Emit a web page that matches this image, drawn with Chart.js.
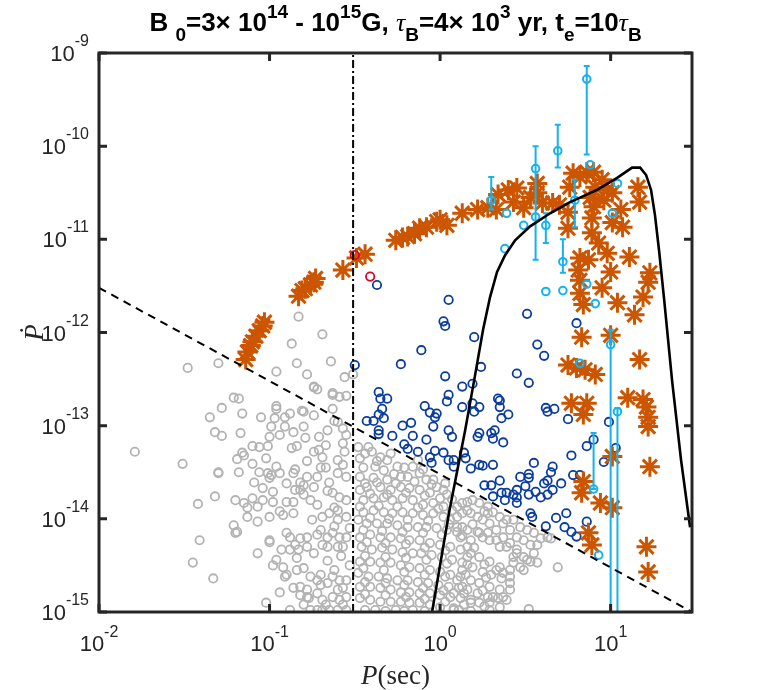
<!DOCTYPE html>
<html>
<head>
<meta charset="utf-8">
<script src="https://cdn.jsdelivr.net/npm/chart.js@4.4.0/dist/chart.umd.min.js"></script>
<style>
  body { margin: 0; background: #fff; }
  canvas { display: block; }
</style>
</head>
<body>
<canvas id="ppdot" width="763" height="690"></canvas>
<script>
"use strict";

// All values are [log10 P (s), log10 Pdot]

// Normal radio pulsars (grey)
const normalPsr = [
  [-1.79,-13.28],[-1.51,-13.41],[-1.48,-12.38],[-1.30,-12.33],[-1.42,-13.84],[-1.32,-13.76],[-1.30,-13.51],[-1.41,-14.23],
  [-1.45,-14.47],[-1.33,-14.64],[-1.02,-14.90],[-1.21,-12.70],[-1.18,-12.71],[-1.28,-12.81],[-1.35,-12.91],[-1.16,-12.87],
  [-1.32,-13.07],[-1.28,-13.11],[-1.17,-13.08],[-1.05,-12.91],[-0.97,-12.92],[-0.96,-12.79],[-0.96,-12.82],[-0.91,-12.91],
  [-0.88,-12.87],[-0.87,-12.12],[-0.84,-12.33],[-0.96,-12.42],[-0.78,-12.45],[-0.99,-13.01],[-1.00,-13.12],[-0.94,-13.10],
  [-0.86,-13.07],[-0.80,-13.01],[-0.81,-12.84],[-1.10,-13.22],[-1.01,-13.22],[-1.15,-13.32],[-1.19,-13.36],[-1.02,-13.35],
  [-1.10,-13.41],[-0.96,-13.44],[-1.06,-13.50],[-1.01,-13.51],[-0.99,-13.53],[-0.94,-13.51],[-0.86,-13.51],[-1.18,-13.50],
  [-1.09,-13.61],[-1.04,-13.67],[-0.98,-13.71],[-0.85,-13.69],[-0.80,-13.64],[-1.20,-13.80],[-1.15,-13.83],[-1.10,-13.78],
  [-1.04,-13.80],[-1.13,-13.88],[-1.07,-13.87],[-0.98,-13.82],[-0.90,-13.82],[-0.86,-13.82],[-0.86,-13.94],[-0.94,-13.92],
  [-1.00,-13.98],[-1.13,-13.98],[-1.21,-14.07],[-1.19,-14.14],[-1.07,-14.03],[-0.90,-14.15],[-1.00,-14.23],[-1.00,-14.25],
  [-0.93,-14.33],[-0.88,-14.33],[-0.83,-14.33],[-0.78,-14.30],[-1.07,-14.37],[-0.96,-14.44],[-0.98,-14.50],[-0.92,-14.52],
  [-0.84,-14.42],[-0.80,-14.53],[-0.91,-14.62],[-0.82,-14.73],[-0.94,-14.79],[-0.88,-14.98],[-0.78,-14.84],
  [-0.74,-12.59],[-0.72,-12.61],[-0.80,-12.85],[-0.74,-12.89],[-0.63,-12.67],[-0.59,-12.69],[-0.55,-12.68],[-0.63,-12.82],
  [-0.62,-12.95],[-0.66,-13.05],[-0.71,-13.12],[-0.91,-13.01],[-1.06,-13.23],[-1.16,-13.29],[-1.30,-13.50],[-1.00,-13.56],
  [-0.87,-13.24],[-0.84,-13.22],[-0.79,-13.13],[-0.74,-13.28],[-0.78,-13.38],[-0.85,-13.47],[-0.90,-13.62],[-0.82,-13.61],
  [-0.78,-13.55],[-0.82,-13.69],[-0.80,-13.74],[-0.76,-13.80],[-0.67,-13.21],[-0.71,-13.26],[-0.69,-13.34],[-0.67,-13.45],
  [-0.72,-13.55],[-0.65,-13.61],[-0.60,-13.51],[-0.57,-13.42],[-0.56,-13.28],[-0.55,-13.55],[-0.63,-13.72],[-0.59,-13.77],
  [-0.55,-13.80],[-0.55,-13.98],[-0.60,-14.01],[-0.60,-13.91],[-0.65,-13.94],[-0.69,-13.98],[-0.75,-14.01],[-0.92,-13.96],
  [-1.20,-14.15],[-0.88,-14.20],[-0.85,-14.28],[-0.82,-14.21],[-0.78,-14.20],[-0.72,-14.17],[-0.66,-14.20],[-0.63,-14.15],
  [-0.59,-14.20],[-0.55,-14.20],[-0.69,-14.28],[-0.66,-14.30],[-0.60,-14.30],[-0.57,-14.30],[-0.74,-14.37],[-0.90,-14.60],
  [-0.84,-14.55],[-0.76,-14.62],[-0.72,-14.66],[-0.70,-14.71],[-0.66,-14.69],[-0.63,-14.62],[-0.59,-14.66],[-0.55,-14.66],
  [-0.60,-14.76],[-0.57,-14.74],[-0.78,-14.76],[-0.86,-14.74],[-0.82,-14.82],[-0.77,-14.85],[-0.72,-14.80],[-0.69,-14.87],
  [-0.63,-14.84],[-0.59,-14.87],[-0.55,-14.84],[-0.76,-14.98],[-0.72,-14.98],[-0.69,-14.98],[-0.65,-14.98],[-0.60,-14.98],
  [-0.55,-14.98],[-0.60,-12.96],[-0.57,-13.03],[-0.55,-13.10],[-0.57,-13.19],[-0.60,-13.37],
  [-0.83,-11.83],[-0.69,-12.02],[-0.64,-12.31],[-0.56,-12.48],[-0.51,-12.45],[-0.74,-12.58],[-0.63,-12.65],
  [-0.48,-13.23],[-0.47,-13.35],[-0.42,-13.23],[-0.40,-13.28],[-0.35,-13.34],[-0.31,-13.37],[-0.25,-13.44],[-0.33,-13.48],
  [-0.38,-13.44],[-0.45,-13.45],[-0.47,-13.55],[-0.39,-13.56],[-0.31,-13.58],[-0.23,-13.55],[-0.19,-13.55],[-0.16,-13.44],
  [-0.13,-13.37],[-0.12,-13.51],[-0.08,-13.58],[-0.04,-13.58],[-0.02,-13.66],[0.02,-13.69],[0.04,-13.74],[0.00,-13.78],
  [-0.06,-13.72],[-0.12,-13.69],[-0.18,-13.67],[-0.23,-13.66],[-0.29,-13.69],[-0.35,-13.66],[-0.43,-13.66],[-0.47,-13.69],
  [-0.45,-13.80],[-0.39,-13.78],[-0.33,-13.77],[-0.28,-13.80],[-0.22,-13.78],[-0.16,-13.80],[-0.10,-13.85],[-0.04,-13.83],
  [0.02,-13.87],[0.07,-13.91],[0.10,-13.87],[0.13,-13.83],[0.16,-13.82],[0.19,-13.80],[0.23,-13.83],[0.28,-13.87],
  [0.31,-13.93],[0.35,-13.98],[0.39,-14.01],[0.43,-14.01],[0.47,-14.09],[0.51,-14.12],[0.55,-14.15],[0.59,-14.21],
  [0.63,-14.20],[0.57,-14.28],[0.55,-14.37],[0.57,-14.47],[0.53,-14.46],[0.49,-14.41],[0.45,-14.33],[0.41,-14.26],
  [0.37,-14.20],[0.33,-14.12],[0.29,-14.05],[0.25,-14.01],[0.22,-13.98],[0.18,-13.94],[0.13,-13.94],[0.10,-13.98],
  [0.06,-14.01],[0.02,-13.98],[-0.04,-13.94],[-0.10,-13.96],[-0.16,-13.94],[-0.22,-13.93],[-0.28,-13.94],[-0.33,-13.93],
  [-0.39,-13.91],[-0.45,-13.93],[-0.48,-14.01],[-0.43,-14.05],[-0.37,-14.05],[-0.31,-14.05],[-0.25,-14.07],[-0.19,-14.09],
  [-0.13,-14.09],[-0.08,-14.09],[-0.02,-14.10],[0.04,-14.12],[0.10,-14.14],[0.16,-14.12],[0.22,-14.14],[0.28,-14.15],
  [0.33,-14.23],[0.39,-14.30],[0.43,-14.41],[0.47,-14.52],[0.41,-14.55],[0.35,-14.52],[0.29,-14.46],[0.23,-14.41],
  [0.18,-14.37],[0.12,-14.33],[0.06,-14.30],[0.00,-14.28],[-0.06,-14.26],[-0.12,-14.23],[-0.18,-14.23],[-0.23,-14.21],
  [-0.29,-14.20],[-0.35,-14.20],[-0.41,-14.17],[-0.47,-14.20],[-0.46,-14.30],[-0.40,-14.33],[-0.34,-14.31],[-0.28,-14.33],
  [-0.22,-14.36],[-0.16,-14.37],[-0.11,-14.37],[-0.05,-14.39],[0.01,-14.41],[0.07,-14.44],[0.13,-14.47],[0.19,-14.52],
  [0.25,-14.57],[0.30,-14.60],[0.36,-14.64],[0.41,-14.69],[0.35,-14.76],[0.29,-14.73],[0.23,-14.69],[0.18,-14.66],
  [0.12,-14.62],[0.06,-14.60],[0.00,-14.57],[-0.06,-14.55],[-0.12,-14.53],[-0.18,-14.52],[-0.23,-14.50],[-0.29,-14.47],
  [-0.35,-14.47],[-0.41,-14.46],[-0.47,-14.46],[-0.48,-14.58],[-0.42,-14.62],[-0.36,-14.62],[-0.31,-14.64],[-0.25,-14.66],
  [-0.19,-14.66],[-0.13,-14.68],[-0.07,-14.69],[-0.01,-14.71],[0.05,-14.73],[0.11,-14.74],[0.16,-14.76],[0.22,-14.80],
  [0.28,-14.84],[0.34,-14.85],[0.39,-14.87],[0.35,-14.95],[0.29,-14.98],[0.23,-14.90],[0.18,-14.87],[0.12,-14.85],
  [0.06,-14.84],[0.00,-14.82],[-0.06,-14.80],[-0.12,-14.80],[-0.18,-14.79],[-0.23,-14.79],[-0.29,-14.76],[-0.35,-14.74],
  [-0.41,-14.73],[-0.47,-14.73],[-0.47,-14.85],[-0.41,-14.87],[-0.35,-14.89],[-0.29,-14.89],[-0.23,-14.89],[-0.18,-14.90],
  [-0.12,-14.90],[-0.06,-14.92],[0.00,-14.95],[0.08,-14.96],[-0.44,-14.98],[-0.38,-14.98],[-0.32,-14.99],[-0.26,-14.98],
  [-0.21,-14.99],[-0.16,-14.98],[-0.09,-14.99],[0.11,-14.98],[0.18,-14.99],[0.52,-14.97],
  [0.16,-13.91],[0.28,-13.94],[0.37,-14.05],[0.41,-14.12],[0.45,-14.20],[0.49,-14.23],[0.53,-14.28],[0.51,-14.44],
  [0.49,-14.55],[0.43,-14.47],[0.41,-14.62],[0.37,-14.58],[0.33,-14.55],[0.16,-14.30],[0.12,-14.20],[0.10,-14.09],
  [0.13,-14.09],[0.23,-14.15],[0.29,-14.23],[0.35,-14.30],[0.45,-14.37],[0.18,-14.23],[0.16,-14.41],[0.13,-14.55],
  [0.41,-14.76],[0.37,-14.84],[0.31,-14.84],[0.13,-14.73],[0.10,-14.66],[0.08,-14.80],[0.18,-14.90],[0.29,-14.90],
  [0.08,-14.98],[0.65,-14.21],[0.69,-14.52],
  [-0.44,-13.62],[-0.37,-13.61],[-0.26,-13.62],[-0.15,-13.60],[-0.05,-13.63],[0.03,-13.62],
  [-0.41,-13.73],[-0.31,-13.74],[-0.20,-13.72],[-0.09,-13.75],[0.07,-13.79],
  [-0.47,-13.87],[-0.36,-13.86],[-0.25,-13.87],[-0.13,-13.88],[-0.01,-13.89],[0.26,-13.92],
  [-0.41,-13.99],[-0.30,-14.00],[-0.19,-14.01],[-0.07,-14.02],[0.05,-14.06],[0.19,-14.06],
  [-0.45,-14.12],[-0.34,-14.13],[-0.22,-14.14],[-0.10,-14.15],[0.01,-14.17],[0.13,-14.18],[0.25,-14.20],
  [-0.43,-14.25],[-0.32,-14.26],[-0.20,-14.27],[-0.09,-14.31],[0.03,-14.34],[0.20,-14.31],
  [-0.44,-14.40],[-0.32,-14.41],[-0.20,-14.42],[-0.08,-14.44],[0.04,-14.48],[0.16,-14.49],[0.26,-14.49],
  [-0.45,-14.53],[-0.33,-14.55],[-0.21,-14.57],[-0.09,-14.60],[0.03,-14.62],[0.15,-14.60],[0.27,-14.63],
  [-0.44,-14.68],[-0.32,-14.69],[-0.21,-14.71],[-0.10,-14.74],[0.02,-14.77],[0.14,-14.80],[0.25,-14.77],
  [-0.44,-14.81],[-0.32,-14.82],[-0.20,-14.84],[-0.09,-14.86],[0.03,-14.89],[0.14,-14.92],[0.26,-14.94],
  [-0.62,-14.08],[-0.70,-14.12],[-0.53,-14.10],[-0.58,-14.40],[-0.66,-14.45],[-0.53,-14.50],[-0.62,-14.55],[-0.70,-14.60],
  [-0.57,-14.92],[-0.67,-14.92],[-0.80,-14.92],[-0.62,-13.88],[-0.72,-13.85],[-0.66,-13.70],[-0.74,-13.66],[-0.70,-13.45],
  [-0.44,-13.30],[-0.37,-13.38],[-0.29,-13.30],[-0.21,-13.45],[-0.27,-13.52],[-0.10,-13.47]
];

// High-B pulsars above the death line (dark blue)
const highBPsr = [
  [-0.37,-11.49],[0.05,-11.65],[0.02,-11.88],[0.03,-11.93],[0.20,-12.05],[-0.11,-12.19],[-0.23,-12.34],[-0.50,-12.35],
  [0.24,-12.37],[0.03,-12.47],[0.13,-12.58],[0.19,-12.55],[-0.36,-12.64],[-0.35,-12.71],[-0.31,-12.71],[0.05,-12.67],
  [0.04,-12.74],[-0.09,-12.79],[0.19,-12.76],[0.23,-12.80],[0.13,-12.80],[0.34,-12.71],[-0.34,-12.82],[-0.36,-12.88],
  [-0.33,-12.92],[-0.43,-12.95],[-0.39,-12.95],[-0.36,-13.05],[-0.36,-13.09],[-0.28,-13.11],[-0.22,-13.00],[-0.17,-12.97],
  [-0.16,-13.11],[-0.21,-13.20],[-0.19,-13.25],[-0.13,-13.28],[-0.08,-13.15],[-0.04,-13.01],[-0.03,-12.91],[-0.06,-12.86],
  [-0.02,-12.87],[0.20,-12.85],[0.35,-12.73],[0.35,-12.80],[0.40,-12.88],[0.36,-12.92],[0.32,-13.05],[0.30,-13.08],
  [0.31,-13.14],[0.37,-13.18],[0.23,-13.08],[0.22,-13.12],[0.05,-13.05],[0.07,-13.12],[0.02,-13.29],[0.05,-13.37],
  [0.08,-13.37],[0.08,-13.44],[-0.03,-13.27],[-0.06,-13.34],[-0.05,-13.40],[0.14,-13.29],[0.15,-13.35],[0.18,-13.46],
  [0.25,-13.43],[0.31,-13.42],[0.35,-13.59],[0.26,-13.64],[0.30,-13.64],[0.31,-13.76],[0.36,-13.72],[0.39,-13.72],
  [0.43,-13.74],[0.45,-13.69],[0.47,-13.55],[0.52,-13.52],[0.52,-13.56],[0.50,-13.65],[0.52,-13.74],[0.55,-13.40],
  [0.61,-13.62],[0.63,-13.74],[0.63,-13.59],[0.59,-13.77],[0.45,-13.77],[0.45,-13.83],[0.53,-13.94],[0.54,-13.98],
  [0.62,-14.08],[0.52,-12.54],[0.62,-12.81],[0.63,-12.85],[0.65,-13.50],[0.38,-13.80],[0.56,-13.71],[0.51,-11.80],
  [0.57,-12.13],[0.61,-12.25],[0.45,-12.44],[0.67,-12.82],[0.75,-12.93],[0.80,-11.90],[0.99,-12.96],[1.03,-13.24],
  [0.90,-13.15],[0.86,-13.22],[0.96,-13.39],[0.77,-13.32],[0.66,-13.44],[0.66,-13.69],[0.71,-13.62],[0.68,-13.99],
  [0.74,-13.94],[0.73,-14.09],[0.77,-14.14],[0.80,-14.19],[0.78,-13.53],[0.82,-13.53],[0.86,-14.03],[0.23,-13.42]
];

// Simulated magnetar tracks (orange asterisks)
const simTracks = [
  [-1.14,-12.29],[-1.13,-12.21],[-1.11,-12.14],[-1.10,-12.10],[-1.08,-12.04],[-1.06,-11.98],[-1.04,-11.93],[-1.03,-11.89],
  [-0.83,-11.61],[-0.81,-11.55],[-0.79,-11.53],[-0.76,-11.49],[-0.74,-11.46],[-0.73,-11.42],
  [-0.57,-11.33],[-0.49,-11.20],[-0.44,-11.16],
  [-0.26,-11.01],[-0.22,-10.98],[-0.19,-10.97],[-0.15,-10.94],[-0.12,-10.88],[-0.08,-10.87],[-0.02,-10.81],[0.00,-10.79],
  [0.04,-10.85],[0.13,-10.72],[0.22,-10.68],[0.28,-10.66],[0.33,-10.68],[0.34,-10.52],[0.40,-10.47],[0.43,-10.60],
  [0.45,-10.45],[0.49,-10.66],[0.53,-10.55],[0.57,-10.40],[0.57,-10.50],[0.60,-10.61],[0.66,-10.61],[0.70,-10.63],
  [0.75,-10.71],[0.76,-10.44],[0.78,-10.29],[0.82,-10.33],[0.86,-10.28],[0.90,-10.28],[0.95,-10.36],[0.91,-10.44],
  [0.88,-10.55],[0.90,-10.65],[0.89,-10.77],[0.98,-10.47],[1.01,-10.50],[0.96,-10.58],[1.06,-10.68],[1.01,-10.82],
  [1.07,-10.87],[1.16,-10.44],[1.17,-10.60],[0.75,-10.88],[0.89,-10.93],[0.82,-11.20],[0.87,-11.22],[0.93,-11.04],
  [0.98,-11.15],[1.11,-11.19],[1.00,-11.35],[1.23,-11.36],[0.81,-11.33],
  [0.82,-11.44],[0.82,-11.58],[0.84,-11.70],[0.95,-11.52],[1.04,-11.68],[1.14,-11.81],[1.19,-11.62],[1.22,-11.46],
  [0.83,-12.05],[1.00,-12.03],[1.17,-12.29],[0.75,-12.35],[0.80,-12.38],[0.85,-12.40],[0.91,-12.45],[0.77,-12.76],
  [0.86,-12.76],[0.84,-12.88],[1.10,-12.70],[1.19,-12.72],[1.21,-12.80],[1.22,-12.91],[1.22,-13.01],[1.01,-13.33],
  [1.23,-13.44],[0.84,-13.60],[0.83,-13.72],[0.94,-13.83],[1.01,-13.88],[0.87,-14.15],[0.89,-14.28],[1.21,-14.30],
  [1.22,-14.57]
];

// Magnetars with error bars (cyan); low/high are the bar ends, null = no bar
const magnetars = [
  [0.86,-9.28],[0.69,-10.05],[0.56,-10.24],[0.56,-10.76],[0.88,-10.20],[0.30,-10.58],[0.39,-10.72],[0.49,-10.85],
  [0.62,-10.85],[0.38,-11.10],[0.72,-11.24],[1.04,-10.40],[1.01,-10.72],[0.79,-10.58],[0.86,-11.48],[0.62,-11.56],
  [0.72,-11.55],[0.91,-11.69],[0.82,-12.33],[1.04,-12.85],[1.00,-12.13],[0.90,-13.68],[0.93,-14.39]
];
const magLow  = [-10.09,-10.23,-11.22,null,null,-10.68,null,null,-11.04,null,-11.36,null,null,-10.87,null,null,null,null,null,-16,-16,-13.68,null];
const magHigh = [-9.14,-9.77,-10.00,null,null,-10.33,null,null,-10.72,null,-11.00,null,null,-10.36,null,null,null,null,null,-12.81,-11.97,-13.08,null];

// Two highlighted sources (red)
const redPsr = [[-0.50,-11.17],[-0.41,-11.40]];

// Model track (black solid)
const modelTrack = [
  [-0.047,-15.0],[0.053,-13.93],[0.147,-13.05],[0.205,-12.46],[0.252,-11.97],[0.293,-11.62],[0.334,-11.35],[0.381,-11.17],
  [0.44,-11.01],[0.528,-10.86],[0.645,-10.72],[0.762,-10.60],[0.921,-10.47],[1.038,-10.34],[1.126,-10.23],[1.173,-10.23],
  [1.208,-10.31],[1.237,-10.47],[1.26,-10.74],[1.284,-11.12],[1.314,-11.65],[1.36,-12.51],[1.413,-13.37],[1.466,-14.09]
];
// Death line (dashed) and period cut (dash-dot)
const deathLine = [[-2,-11.52],[1.477,-15]];
const periodCut = [[-0.51,-15],[-0.51,-9]];

// Tick decades
const xDecades = [-2, -1, 0, 1];
const yDecades = [-15, -14, -13, -12, -11, -10, -9];

// Colors
const grayColor = '#b3b3b3';
const blueColor = '#0b3d9e';
const orangeColor = '#cc5500';
const cyanColor = '#16b2ec';
const redColor = '#d9062b';
const axisColor = '#262626';

const toXY = ([lp, lpd]) => ({ x: Math.pow(10, lp), y: Math.pow(10, lpd) });

const sans = '"Liberation Sans", Arial, Helvetica, sans-serif';
const serif = '"Liberation Serif", "DejaVu Serif", "Times New Roman", serif';

// Draw a run of text pieces (base / super / sub) starting at x
function drawParts(ctx, parts, x, y, align) {
    let w = 0;
    parts.forEach(p => { ctx.font = p.font; p.w = ctx.measureText(p.t).width; w += p.w; });
    let cx = align === 'center' ? x - w / 2 : (align === 'right' ? x - w : x);
    ctx.textAlign = 'left';
    ctx.textBaseline = 'alphabetic';
    parts.forEach(p => { ctx.font = p.font; ctx.fillText(p.t, cx, y + p.dy); cx += p.w; });
}

// Error bars drawn just before the cyan markers
const errorBars = {
    id: 'errorBars',
    beforeDatasetDraw(chart, args) {
        if (chart.data.datasets[args.index].label !== 'magnetars') return;
        const { ctx, chartArea: a, scales: { x, y } } = chart;
        ctx.save();
        ctx.beginPath();
        ctx.rect(a.left, a.top, a.right - a.left, a.bottom - a.top);
        ctx.clip();
        ctx.strokeStyle = cyanColor;
        ctx.lineWidth = 2;
        magnetars.forEach((p, i) => {
            if (magLow[i] === null) return;
            const px = x.getPixelForValue(Math.pow(10, p[0]));
            const y1 = y.getPixelForValue(Math.pow(10, magLow[i]));
            const y2 = y.getPixelForValue(Math.pow(10, magHigh[i]));
            ctx.beginPath();
            ctx.moveTo(px, y1); ctx.lineTo(px, y2);
            ctx.moveTo(px - 3, y1); ctx.lineTo(px + 3, y1);
            ctx.moveTo(px - 3, y2); ctx.lineTo(px + 3, y2);
            ctx.stroke();
        });
        ctx.restore();
    }
};

// Box, ticks, tick labels, title and axis labels
const frame = {
    id: 'frame',
    afterDraw(chart) {
        const { ctx, chartArea: a, scales: { x, y } } = chart;
        ctx.save();
        ctx.strokeStyle = axisColor;
        ctx.fillStyle = axisColor;
        ctx.lineWidth = 3;
        ctx.strokeRect(a.left, a.top, a.right - a.left, a.bottom - a.top);

        const tl = 8;
        ctx.beginPath();
        xDecades.forEach(d => {
            const px = x.getPixelForValue(Math.pow(10, d));
            ctx.moveTo(px, a.bottom); ctx.lineTo(px, a.bottom - tl);
            ctx.moveTo(px, a.top); ctx.lineTo(px, a.top + tl);
        });
        yDecades.forEach(d => {
            const py = y.getPixelForValue(Math.pow(10, d));
            ctx.moveTo(a.left, py); ctx.lineTo(a.left + tl, py);
            ctx.moveTo(a.right, py); ctx.lineTo(a.right - tl, py);
        });
        ctx.stroke();

        const baseFont = '22px ' + sans;
        const expFont = '16px ' + sans;
        xDecades.forEach(d => {
            const px = x.getPixelForValue(Math.pow(10, d));
            drawParts(ctx, [
                { t: '10', font: baseFont, dy: 0 },
                { t: String(d), font: expFont, dy: -14 }
            ], px, a.bottom + 39, 'center');
        });
        yDecades.forEach(d => {
            const py = y.getPixelForValue(Math.pow(10, d));
            drawParts(ctx, [
                { t: '10', font: baseFont, dy: 0 },
                { t: String(d), font: expFont, dy: -15 }
            ], a.left - 10, py + 8, 'right');
        });

        // Title
        ctx.fillStyle = '#000';
        const tb = 'bold 26px ' + sans;
        const ts = 'bold 19px ' + sans;
        const tg = 'italic 26px ' + serif;
        const sub = 10, sup = -13;
        drawParts(ctx, [
            { t: 'B ', font: tb, dy: 0 }, { t: '0', font: ts, dy: sub },
            { t: '=3\u00d7 10', font: tb, dy: 0 }, { t: '14', font: ts, dy: sup },
            { t: ' - 10', font: tb, dy: 0 }, { t: '15', font: ts, dy: sup },
            { t: 'G, ', font: tb, dy: 0 }, { t: '\u03c4', font: tg, dy: 0 }, { t: 'B', font: ts, dy: sub },
            { t: '=4\u00d7 10', font: tb, dy: 0 }, { t: '3', font: ts, dy: sup },
            { t: ' yr, t', font: tb, dy: 0 }, { t: 'e', font: ts, dy: sub },
            { t: '=10', font: tb, dy: 0 }, { t: '\u03c4', font: tg, dy: 0 }, { t: 'B', font: ts, dy: sub }
        ], (a.left + a.right) / 2, 31, 'center');

        // Axis labels
        ctx.fillStyle = axisColor;
        drawParts(ctx, [
            { t: 'P', font: 'italic 27px ' + serif, dy: 0 },
            { t: '(sec)', font: '27px ' + serif, dy: 0 }
        ], (a.left + a.right) / 2, 684, 'center');

        ctx.translate(36, (a.top + a.bottom) / 2);
        ctx.rotate(-Math.PI / 2);
        ctx.font = 'italic 27px ' + serif;
        ctx.textAlign = 'center';
        ctx.textBaseline = 'middle';
        ctx.fillText('\u1e56', 0, 0);
        ctx.restore();
    }
};

var ctx = document.getElementById('ppdot');

const config = {
    type: 'scatter',
    data: {
        datasets: [
            {
                label: 'model',
                data: modelTrack.map(toXY),
                showLine: true,
                borderColor: '#000',
                borderWidth: 2.6,
                pointRadius: 0,
                order: 0
            },
            {
                label: 'death',
                data: deathLine.map(toXY),
                showLine: true,
                borderColor: '#000',
                borderWidth: 2,
                borderDash: [8, 6],
                pointRadius: 0,
                order: 1
            },
            {
                label: 'pcut',
                data: periodCut.map(toXY),
                showLine: true,
                borderColor: '#000',
                borderWidth: 2,
                borderDash: [8, 3, 2, 3],
                pointRadius: 0,
                order: 2
            },
            {
                label: 'red',
                data: redPsr.map(toXY),
                pointStyle: 'circle',
                pointRadius: 4.2,
                pointBorderWidth: 1.8,
                pointBorderColor: redColor,
                pointBackgroundColor: 'rgba(0,0,0,0)',
                order: 4
            },
            {
                label: 'magnetars',
                data: magnetars.map(toXY),
                pointStyle: 'circle',
                pointRadius: 3.8,
                pointBorderWidth: 2,
                pointBorderColor: cyanColor,
                pointBackgroundColor: 'rgba(0,0,0,0)',
                order: 3
            },
            {
                label: 'tracks',
                data: simTracks.map(toXY),
                pointStyle: 'star',
                pointRadius: 10,
                pointBorderWidth: 3,
                pointBorderColor: orangeColor,
                pointBackgroundColor: orangeColor,
                order: 5
            },
            {
                label: 'highB',
                data: highBPsr.map(toXY),
                pointStyle: 'circle',
                pointRadius: 4.2,
                pointBorderWidth: 1.8,
                pointBorderColor: blueColor,
                pointBackgroundColor: 'rgba(0,0,0,0)',
                order: 6
            },
            {
                label: 'normal',
                data: normalPsr.map(toXY),
                pointStyle: 'circle',
                pointRadius: 4.2,
                pointBorderWidth: 1.8,
                pointBorderColor: grayColor,
                pointBackgroundColor: 'rgba(0,0,0,0)',
                order: 7
            }
        ]
    },
    options: {
        responsive: false,
        animation: false,
        devicePixelRatio: 1,
        events: [],
        layout: { padding: { left: 99, right: 71, top: 53, bottom: 78 } },
        plugins: {
            legend: { display: false },
            tooltip: { enabled: false },
            title: { display: false }
        },
        scales: {
            x: { type: 'logarithmic', min: 0.01, max: 30, display: false },
            y: { type: 'logarithmic', min: 1e-15, max: 1e-9, display: false }
        }
    },
    plugins: [errorBars, frame]
};

var ppdotChart = new Chart(ctx, config);
</script>
</body>
</html>
